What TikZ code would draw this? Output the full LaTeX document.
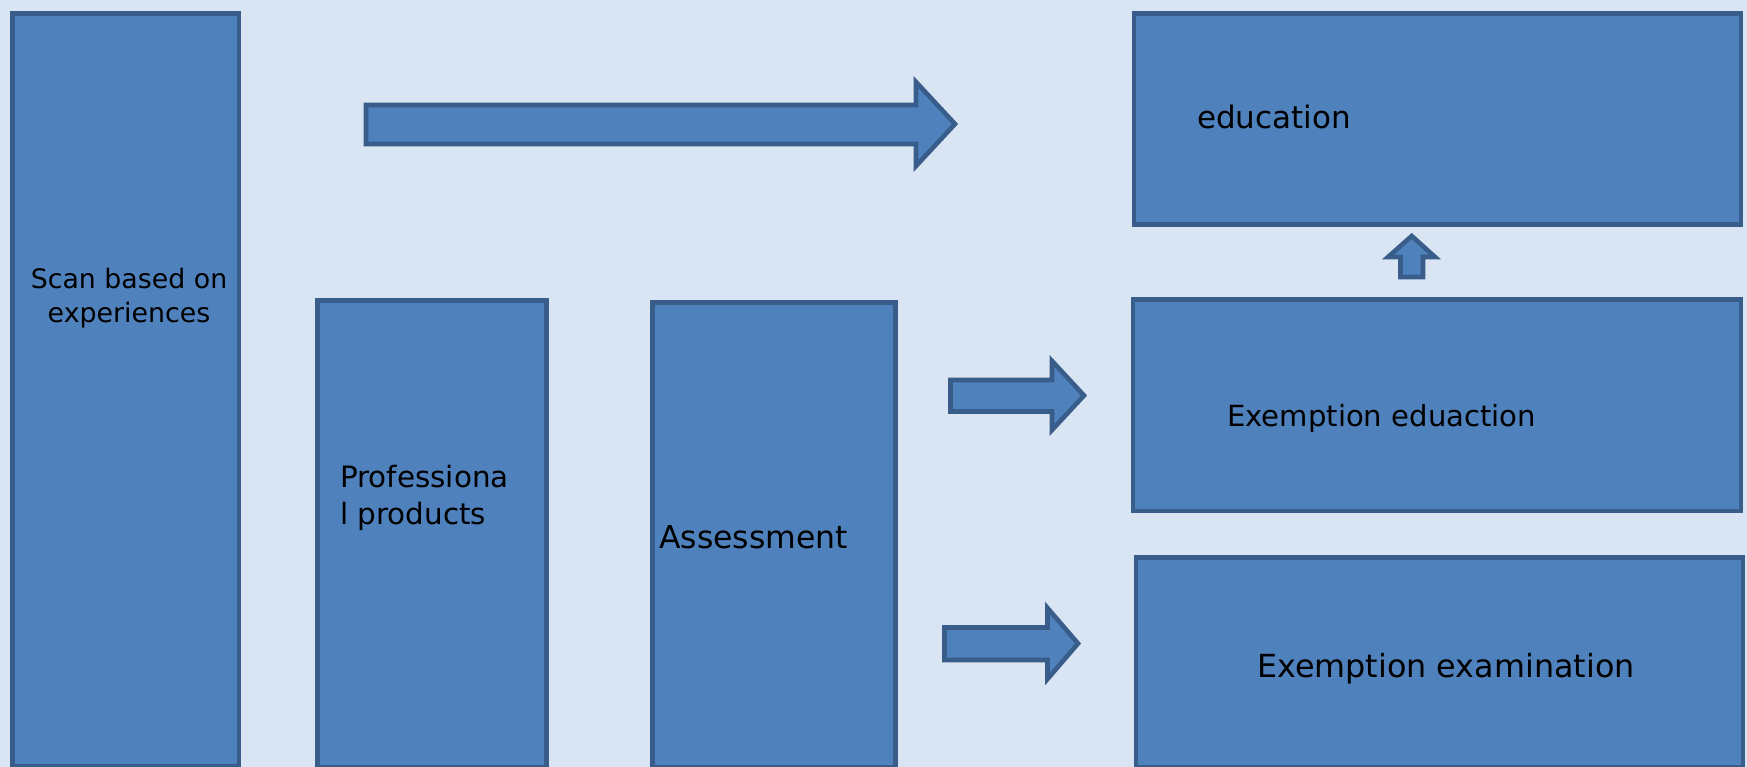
\documentclass[tikz,border=0pt]{standalone}
\usepackage{fontspec}
\setmainfont{DejaVu Sans}
\definecolor{bgc}{HTML}{DAE5F3}
\definecolor{fillc}{HTML}{4F81BD}
\definecolor{linec}{HTML}{385D8A}
\tikzset{
  box/.style={draw=linec, fill=fillc, line width=4.6pt, rectangle, inner sep=0pt, anchor=north west},
  blockarrow/.style={draw=linec, fill=fillc, line width=4.6pt, line join=miter},
  lbl/.style={inner sep=0pt, text=black}
}
\begin{document}
\begin{tikzpicture}[x=1pt,y=-1pt]
\useasboundingbox (0,0) rectangle (1747,767);
\fill[bgc] (0,0) rectangle (1747,767);
% boxes
\node[box, minimum width=226.5pt, minimum height=753pt] (scan) at (10,11) {};
\node[box, minimum width=229pt, minimum height=466.5pt] (prof) at (315,298) {};
\node[box, minimum width=243pt, minimum height=464.5pt] (assess) at (650,300) {};
\node[box, minimum width=607pt, minimum height=211pt] (edu) at (1131.5,11) {};
\node[box, minimum width=608pt, minimum height=211.5pt] (exedu) at (1130.5,297) {};
\node[box, minimum width=607pt, minimum height=209.5pt] (exexam) at (1133.5,555) {};
% labels
\node[lbl, font=\fontsize{26.8}{33.4}\selectfont, align=center] (scant) at (129,298) {Scan based on\\experiences};
\node[lbl, font=\fontsize{29.4}{36.5}\selectfont, align=left, anchor=base west] (proft) at (340,524) {Professiona\\l products};
\node[lbl, font=\fontsize{31.5}{36}\selectfont, anchor=base west] (assesst) at (659,548) {Assessment};
\node[lbl, font=\fontsize{31}{36}\selectfont, anchor=base west] (edut) at (1197,129) {education};
\node[lbl, font=\fontsize{29.1}{34}\selectfont, anchor=base west] (exedut) at (1227,426) {Exemption eduaction};
\node[lbl, font=\fontsize{31.8}{36}\selectfont, anchor=base west] (exexamt) at (1257,677) {Exemption examination};
% big arrow
\draw[blockarrow] (366,105) -- (916,105) -- (916,82) -- (955,124) -- (916,166) -- (916,144) -- (366,144) -- cycle;
% arrow 2
\draw[blockarrow] (950.5,380) -- (1052,380) -- (1052,361) -- (1084,395.5) -- (1052,430) -- (1052,411.5) -- (950.5,411.5) -- cycle;
% arrow 3
\draw[blockarrow] (944.5,627.5) -- (1047.5,627.5) -- (1047.5,608) -- (1078,643.5) -- (1047.5,679) -- (1047.5,660) -- (944.5,660) -- cycle;
% up arrow
\draw[blockarrow] (1400.5,277) -- (1400.5,257) -- (1388,257) -- (1411.7,236) -- (1435,257) -- (1423,257) -- (1423,277) -- cycle;
\end{tikzpicture}
\end{document}
